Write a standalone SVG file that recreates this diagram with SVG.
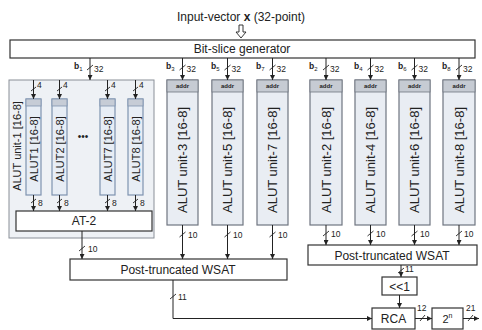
<svg xmlns="http://www.w3.org/2000/svg" width="482" height="330" viewBox="0 0 482 330">
<style>
text{font-family:"Liberation Sans",Arial,sans-serif;fill:#222}
.box{fill:#fff;stroke:#333;stroke-width:1.2}
.outer{fill:#eef1f5;stroke:#8a8f98;stroke-width:1}
.unit{fill:#e9edf3;stroke:#6f7580;stroke-width:1.2}
.inner{fill:#e7edf5;stroke:#7f93b0;stroke-width:1.2}
.hdr{fill:#c6cbd3;stroke:#6f7580;stroke-width:0.8}
.hdr2{fill:#c6ccd6;stroke:#7f93b0;stroke-width:0.8}
.ht{font-size:6px;font-weight:bold;text-anchor:middle}
.rt{font-size:13px;text-anchor:middle;dominant-baseline:central}
.rti{font-size:11px;text-anchor:middle;dominant-baseline:central}
.bt{font-size:12px;text-anchor:middle;dominant-baseline:central}
.lbl{font-size:8.5px}
.wire{fill:none;stroke:#222;stroke-width:1}
.tick{stroke:#222;stroke-width:0.9}
</style>
<defs>
<marker id="ah" viewBox="0 0 10 10" refX="10" refY="5" markerWidth="5" markerHeight="5" orient="auto"><path d="M0,0 L10,5 L0,10 z" fill="#222"/></marker>
</defs>

<g id="title">
<text x="241" y="21" font-size="12" text-anchor="middle">Input-vector <tspan font-weight="bold">x</tspan> (32-point)</text>
<path d="M239,25 H243 V32 H246 L241,38 L236,32 H239 Z" fill="#fff" stroke="#222" stroke-width="0.9"/>
</g>

<g id="bitslice">
<rect class="box" x="10" y="40" width="465" height="18"/>
<text class="bt" x="242" y="49">Bit-slice generator</text>
</g>

<g id="unit1">
<rect class="outer" x="9" y="80" width="145" height="158"/>
<text class="rti" transform="translate(17,146) rotate(-90)">ALUT unit-1 [16-8]</text>
<g id="alut1">
<rect class="inner" x="26" y="99" width="15" height="96"/>
<rect class="hdr2" x="26" y="99" width="15" height="7"/>
<text class="rti" transform="translate(33.5,149) rotate(-90)">ALUT1 [16-8]</text>
</g>
<g id="alut2">
<rect class="inner" x="52" y="99" width="15" height="96"/>
<rect class="hdr2" x="52" y="99" width="15" height="7"/>
<text class="rti" transform="translate(59.5,149) rotate(-90)">ALUT2 [16-8]</text>
</g>
<text x="83" y="140" font-size="10" text-anchor="middle">•••</text>
<g id="alut7">
<rect class="inner" x="100" y="99" width="15" height="96"/>
<rect class="hdr2" x="100" y="99" width="15" height="7"/>
<text class="rti" transform="translate(107.5,149) rotate(-90)">ALUT7 [16-8]</text>
</g>
<g id="alut8">
<rect class="inner" x="128" y="99" width="15" height="96"/>
<rect class="hdr2" x="128" y="99" width="15" height="7"/>
<text class="rti" transform="translate(135.5,149) rotate(-90)">ALUT8 [16-8]</text>
</g>
<g id="at2">
<rect class="box" x="16" y="211" width="136" height="20"/>
<text class="bt" x="84" y="221">AT-2</text>
</g>
</g>

<g id="unit3">
<rect class="unit" x="167" y="80" width="31" height="145"/>
<rect class="hdr" x="167" y="80" width="31" height="12"/>
<text class="ht" x="182.5" y="88">addr</text>
<text class="rt" transform="translate(182.5,160) rotate(-90)">ALUT unit-3 [16-8]</text>
</g>
<g id="unit5">
<rect class="unit" x="212" y="80" width="31" height="145"/>
<rect class="hdr" x="212" y="80" width="31" height="12"/>
<text class="ht" x="227.5" y="88">addr</text>
<text class="rt" transform="translate(227.5,160) rotate(-90)">ALUT unit-5 [16-8]</text>
</g>
<g id="unit7">
<rect class="unit" x="257" y="80" width="31" height="145"/>
<rect class="hdr" x="257" y="80" width="31" height="12"/>
<text class="ht" x="272.5" y="88">addr</text>
<text class="rt" transform="translate(272.5,160) rotate(-90)">ALUT unit-7 [16-8]</text>
</g>
<g id="unit2">
<rect class="unit" x="310" y="80" width="32" height="145"/>
<rect class="hdr" x="310" y="80" width="32" height="12"/>
<text class="ht" x="326" y="88">addr</text>
<text class="rt" transform="translate(326,160) rotate(-90)">ALUT unit-2 [16-8]</text>
</g>
<g id="unit4">
<rect class="unit" x="355" y="80" width="31" height="145"/>
<rect class="hdr" x="355" y="80" width="31" height="12"/>
<text class="ht" x="370.5" y="88">addr</text>
<text class="rt" transform="translate(370.5,160) rotate(-90)">ALUT unit-4 [16-8]</text>
</g>
<g id="unit6">
<rect class="unit" x="399" y="80" width="31" height="145"/>
<rect class="hdr" x="399" y="80" width="31" height="12"/>
<text class="ht" x="414.5" y="88">addr</text>
<text class="rt" transform="translate(414.5,160) rotate(-90)">ALUT unit-6 [16-8]</text>
</g>
<g id="unit8">
<rect class="unit" x="443" y="80" width="32" height="145"/>
<rect class="hdr" x="443" y="80" width="32" height="12"/>
<text class="ht" x="459" y="88">addr</text>
<text class="rt" transform="translate(459,160) rotate(-90)">ALUT unit-8 [16-8]</text>
</g>

<g id="wsat-left">
<rect class="box" x="70" y="259" width="217" height="21"/>
<text class="bt" x="178" y="270">Post-truncated WSAT</text>
</g>
<g id="wsat-right">
<rect class="box" x="308" y="245" width="169" height="20"/>
<text class="bt" x="392" y="255.5">Post-truncated WSAT</text>
</g>
<g id="shift">
<rect class="box" x="382" y="277" width="35" height="18"/>
<text class="bt" x="399.5" y="286.5" font-size="10">&lt;&lt;1</text>
</g>
<g id="rca">
<rect class="box" x="372" y="308" width="43" height="21"/>
<text class="bt" x="393.5" y="319">RCA</text>
</g>
<g id="pow">
<rect class="box" x="432" y="308" width="31" height="21"/>
<text x="447.5" y="323" font-size="11" text-anchor="middle">2<tspan font-size="7" dy="-5">n</tspan></text>
</g>

<g id="connectors">
<!-- bit-slice outputs -->
<path class="wire" d="M90,58 V80" marker-end="url(#ah)"/>
<path class="wire" d="M182.5,58 V80" marker-end="url(#ah)"/>
<path class="wire" d="M227.5,58 V80" marker-end="url(#ah)"/>
<path class="wire" d="M272.5,58 V80" marker-end="url(#ah)"/>
<path class="wire" d="M326,58 V80" marker-end="url(#ah)"/>
<path class="wire" d="M370.5,58 V80" marker-end="url(#ah)"/>
<path class="wire" d="M414.5,58 V80" marker-end="url(#ah)"/>
<path class="wire" d="M459,58 V80" marker-end="url(#ah)"/>
<g class="tick">
<line x1="87" y1="70" x2="93" y2="65"/>
<line x1="179.5" y1="70" x2="185.5" y2="65"/>
<line x1="224.5" y1="70" x2="230.5" y2="65"/>
<line x1="269.5" y1="70" x2="275.5" y2="65"/>
<line x1="323" y1="70" x2="329" y2="65"/>
<line x1="367.5" y1="70" x2="373.5" y2="65"/>
<line x1="411.5" y1="70" x2="417.5" y2="65"/>
<line x1="456" y1="70" x2="462" y2="65"/>
</g>
<text class="lbl" x="74" y="69"><tspan font-weight="bold">b</tspan><tspan font-size="6" dy="2">1</tspan></text>
<text class="lbl" x="94" y="72">32</text>
<text class="lbl" x="166" y="69"><tspan font-weight="bold">b</tspan><tspan font-size="6" dy="2">3</tspan></text>
<text class="lbl" x="186.5" y="72">32</text>
<text class="lbl" x="211" y="69"><tspan font-weight="bold">b</tspan><tspan font-size="6" dy="2">5</tspan></text>
<text class="lbl" x="231.5" y="72">32</text>
<text class="lbl" x="256" y="69"><tspan font-weight="bold">b</tspan><tspan font-size="6" dy="2">7</tspan></text>
<text class="lbl" x="276.5" y="72">32</text>
<text class="lbl" x="309" y="69"><tspan font-weight="bold">b</tspan><tspan font-size="6" dy="2">2</tspan></text>
<text class="lbl" x="330" y="72">32</text>
<text class="lbl" x="354" y="69"><tspan font-weight="bold">b</tspan><tspan font-size="6" dy="2">4</tspan></text>
<text class="lbl" x="374.5" y="72">32</text>
<text class="lbl" x="398" y="69"><tspan font-weight="bold">b</tspan><tspan font-size="6" dy="2">6</tspan></text>
<text class="lbl" x="418.5" y="72">32</text>
<text class="lbl" x="442" y="69"><tspan font-weight="bold">b</tspan><tspan font-size="6" dy="2">8</tspan></text>
<text class="lbl" x="463" y="72">32</text>

<!-- inner ALUT inputs -->
<path class="wire" d="M33.5,80 V99" marker-end="url(#ah)"/>
<path class="wire" d="M59.5,80 V99" marker-end="url(#ah)"/>
<path class="wire" d="M107.5,80 V99" marker-end="url(#ah)"/>
<path class="wire" d="M135.5,80 V99" marker-end="url(#ah)"/>
<g class="tick">
<line x1="31" y1="91" x2="36" y2="87"/>
<line x1="57" y1="91" x2="62" y2="87"/>
<line x1="105" y1="91" x2="110" y2="87"/>
<line x1="133" y1="91" x2="138" y2="87"/>
</g>
<text class="lbl" x="37" y="88" font-size="7">4</text>
<text class="lbl" x="63" y="88" font-size="7">4</text>
<text class="lbl" x="111" y="88" font-size="7">4</text>
<text class="lbl" x="139" y="88" font-size="7">4</text>

<!-- inner ALUT outputs -->
<path class="wire" d="M33.5,195 V211" marker-end="url(#ah)"/>
<path class="wire" d="M59.5,195 V211" marker-end="url(#ah)"/>
<path class="wire" d="M107.5,195 V211" marker-end="url(#ah)"/>
<path class="wire" d="M135.5,195 V211" marker-end="url(#ah)"/>
<g class="tick">
<line x1="31" y1="203" x2="36" y2="199"/>
<line x1="57" y1="203" x2="62" y2="199"/>
<line x1="105" y1="203" x2="110" y2="199"/>
<line x1="133" y1="203" x2="138" y2="199"/>
</g>
<text class="lbl" x="38" y="206" font-size="7">8</text>
<text class="lbl" x="64" y="206" font-size="7">8</text>
<text class="lbl" x="112" y="206" font-size="7">8</text>
<text class="lbl" x="140" y="206" font-size="7">8</text>

<!-- AT-2 to WSAT -->
<path class="wire" d="M82,231 V259" marker-end="url(#ah)"/>
<line class="tick" x1="79" y1="251" x2="85" y2="246"/>
<text class="lbl" x="88" y="252">10</text>

<!-- units to left WSAT -->
<path class="wire" d="M182.5,225 V259" marker-end="url(#ah)"/>
<path class="wire" d="M227.5,225 V259" marker-end="url(#ah)"/>
<path class="wire" d="M272.5,225 V259" marker-end="url(#ah)"/>
<g class="tick">
<line x1="179.5" y1="237" x2="185.5" y2="232"/>
<line x1="224.5" y1="237" x2="230.5" y2="232"/>
<line x1="269.5" y1="237" x2="275.5" y2="232"/>
</g>
<text class="lbl" x="188" y="238">10</text>
<text class="lbl" x="233" y="238">10</text>
<text class="lbl" x="278" y="238">10</text>

<!-- units to right WSAT -->
<path class="wire" d="M326,225 V245" marker-end="url(#ah)"/>
<path class="wire" d="M370.5,225 V245" marker-end="url(#ah)"/>
<path class="wire" d="M414.5,225 V245" marker-end="url(#ah)"/>
<path class="wire" d="M459,225 V245" marker-end="url(#ah)"/>
<g class="tick">
<line x1="323" y1="236" x2="329" y2="231"/>
<line x1="367.5" y1="236" x2="373.5" y2="231"/>
<line x1="411.5" y1="236" x2="417.5" y2="231"/>
<line x1="456" y1="236" x2="462" y2="231"/>
</g>
<text class="lbl" x="331" y="237">10</text>
<text class="lbl" x="376" y="237">10</text>
<text class="lbl" x="420" y="237">10</text>
<text class="lbl" x="464" y="237">10</text>

<!-- left WSAT to RCA -->
<path class="wire" d="M173,280 V318.5 H372" marker-end="url(#ah)"/>
<line class="tick" x1="170" y1="299" x2="176" y2="294"/>
<text class="lbl" x="178" y="300">11</text>

<!-- right WSAT to shift -->
<path class="wire" d="M401,265 V277" marker-end="url(#ah)"/>
<line class="tick" x1="398" y1="273" x2="404" y2="268"/>
<text class="lbl" x="405" y="272">11</text>

<!-- shift to RCA -->
<path class="wire" d="M399.5,295 V308" marker-end="url(#ah)"/>

<!-- RCA to 2^n -->
<path class="wire" d="M415,318.5 H432" marker-end="url(#ah)"/>
<line class="tick" x1="420" y1="321" x2="425" y2="315"/>
<text class="lbl" x="417" y="311">12</text>

<!-- output -->
<path class="wire" d="M463,318.5 H479" marker-end="url(#ah)"/>
<line class="tick" x1="468" y1="321" x2="473" y2="315"/>
<text class="lbl" x="466" y="311">21</text>
</g>
</svg>
